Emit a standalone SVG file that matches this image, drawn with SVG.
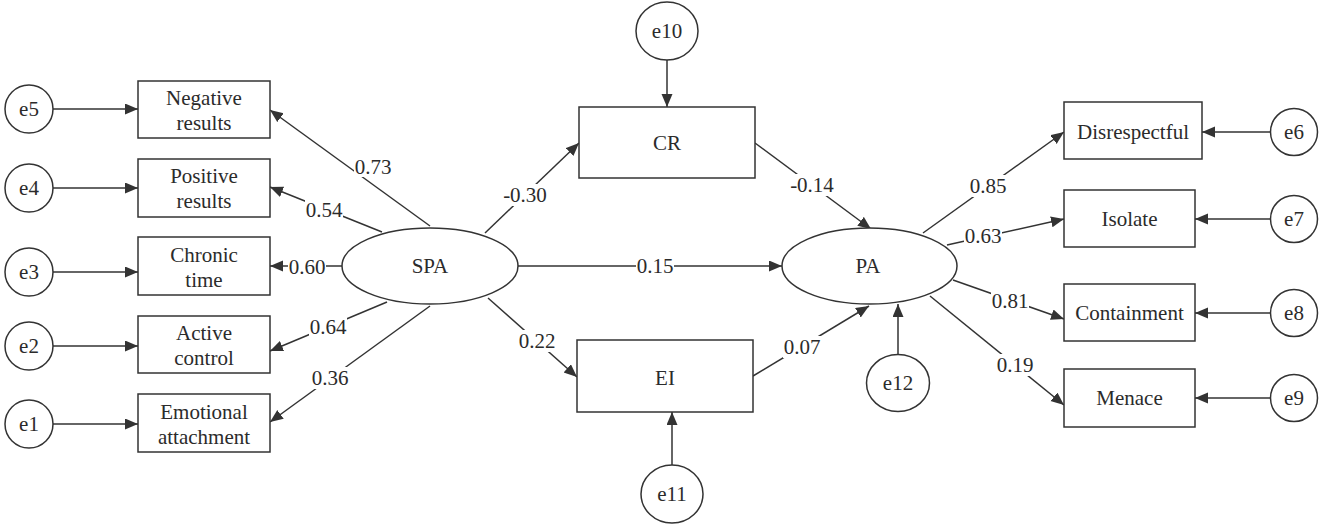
<svg xmlns="http://www.w3.org/2000/svg" width="1325" height="524" viewBox="0 0 1325 524">
<style>
.n{fill:#fff;stroke:#333;stroke-width:1.5}
text{font-family:'Liberation Serif','DejaVu Serif','Times New Roman',serif;font-size:21px;fill:#2b2b2b;text-anchor:middle}
.c line{stroke:#333;stroke-width:1.5;marker-end:url(#ah)}
.bg{fill:#fff;stroke:none}
</style>
<defs>
<marker id="ah" markerUnits="userSpaceOnUse" markerWidth="14" markerHeight="12" refX="13" refY="5.5" orient="auto">
<path d="M0,0 L13,5.5 L0,11 z" fill="#333"/>
</marker>
</defs>
<rect width="1325" height="524" fill="#fff"/>

<g class="c" id="connectors">
<line x1="53" y1="109" x2="138" y2="109"/>
<line x1="53" y1="188" x2="138" y2="188"/>
<line x1="53" y1="272" x2="138" y2="272"/>
<line x1="53" y1="346" x2="138" y2="346"/>
<line x1="53" y1="424" x2="138" y2="424"/>
<line x1="430" y1="226" x2="270" y2="110"/>
<line x1="382" y1="232" x2="270" y2="187"/>
<line x1="342" y1="266" x2="270" y2="266"/>
<line x1="387" y1="302" x2="270" y2="351"/>
<line x1="430" y1="306" x2="270" y2="422"/>
<line x1="667" y1="60" x2="667" y2="107"/>
<line x1="672" y1="465" x2="672" y2="412"/>
<line x1="898" y1="355" x2="898" y2="304"/>
<line x1="485" y1="233" x2="579" y2="143"/>
<line x1="755" y1="143" x2="871" y2="229"/>
<line x1="518" y1="266" x2="782" y2="266"/>
<line x1="488" y1="298" x2="577" y2="377"/>
<line x1="753" y1="376" x2="869" y2="306"/>
<line x1="923" y1="233" x2="1064" y2="132"/>
<line x1="947" y1="245" x2="1064" y2="219"/>
<line x1="953" y1="280" x2="1064" y2="319"/>
<line x1="930" y1="296" x2="1064" y2="405"/>
<line x1="1270" y1="132" x2="1202" y2="132"/>
<line x1="1270" y1="219" x2="1195" y2="219"/>
<line x1="1270" y1="313" x2="1195" y2="313"/>
<line x1="1270" y1="398" x2="1195" y2="398"/>
</g>

<g id="labels" font-family="Liberation Serif, DejaVu Serif, serif">
<rect class="bg" x="354" y="155" width="38" height="22"/><text x="373" y="174">0.73</text>
<rect class="bg" x="305" y="199" width="38" height="22"/><text x="324" y="217">0.54</text>
<rect class="bg" x="288" y="256" width="38" height="22"/><text x="307" y="274">0.60</text>
<rect class="bg" x="309" y="316" width="38" height="22"/><text x="328" y="334">0.64</text>
<rect class="bg" x="311" y="367" width="38" height="22"/><text x="330" y="385">0.36</text>
<rect class="bg" x="503" y="184" width="44" height="22"/><text x="525" y="202">-0.30</text>
<rect class="bg" x="790" y="174" width="44" height="22"/><text x="812" y="192">-0.14</text>
<rect class="bg" x="636" y="255" width="38" height="22"/><text x="655" y="273">0.15</text>
<rect class="bg" x="518" y="330" width="38" height="22"/><text x="537" y="348">0.22</text>
<rect class="bg" x="783" y="336" width="38" height="22"/><text x="802" y="354">0.07</text>
<rect class="bg" x="969" y="175" width="38" height="22"/><text x="988" y="193">0.85</text>
<rect class="bg" x="964" y="225" width="38" height="22"/><text x="983" y="243">0.63</text>
<rect class="bg" x="991" y="290" width="38" height="22"/><text x="1010" y="308">0.81</text>
<rect class="bg" x="996" y="354" width="38" height="22"/><text x="1015" y="372">0.19</text>
</g>

<g id="e5"><circle class="n" cx="29" cy="109" r="24"/><text x="29" y="116">e5</text></g>
<g id="e4"><circle class="n" cx="29" cy="188" r="24"/><text x="29" y="195">e4</text></g>
<g id="e3"><circle class="n" cx="29" cy="272" r="24"/><text x="29" y="279">e3</text></g>
<g id="e2"><circle class="n" cx="29" cy="346" r="24"/><text x="29" y="353">e2</text></g>
<g id="e1"><circle class="n" cx="29" cy="424" r="24"/><text x="29" y="431">e1</text></g>

<g id="negative"><rect class="n" x="138" y="81" width="132" height="57"/><text x="204" y="105">Negative</text><text x="204" y="130">results</text></g>
<g id="positive"><rect class="n" x="138" y="159" width="132" height="58"/><text x="204" y="183">Positive</text><text x="204" y="208">results</text></g>
<g id="chronic"><rect class="n" x="138" y="237" width="132" height="58"/><text x="204" y="262">Chronic</text><text x="204" y="287">time</text></g>
<g id="active"><rect class="n" x="138" y="316" width="132" height="57"/><text x="204" y="340">Active</text><text x="204" y="365">control</text></g>
<g id="emotional"><rect class="n" x="138" y="394" width="132" height="58"/><text x="204" y="419">Emotional</text><text x="204" y="444">attachment</text></g>

<g id="SPA"><ellipse class="n" cx="430" cy="266" rx="88" ry="38"/><text x="430" y="273">SPA</text></g>
<g id="PA"><ellipse class="n" cx="869.5" cy="266" rx="87.5" ry="38"/><text x="868" y="273">PA</text></g>

<g id="e10"><ellipse class="n" cx="667" cy="31" rx="31" ry="29"/><text x="667" y="38">e10</text></g>
<g id="CR"><rect class="n" x="579" y="107" width="176" height="71"/><text x="667" y="150">CR</text></g>
<g id="EI"><rect class="n" x="577" y="340" width="176" height="72"/><text x="665" y="385">EI</text></g>
<g id="e11"><ellipse class="n" cx="672" cy="494" rx="31" ry="29"/><text x="672" y="501">e11</text></g>
<g id="e12"><ellipse class="n" cx="898" cy="383" rx="31.5" ry="28.5"/><text x="898" y="390">e12</text></g>

<g id="disrespectful"><rect class="n" x="1064" y="102" width="138" height="57"/><text x="1133" y="139">Disrespectful</text></g>
<g id="isolate"><rect class="n" x="1064" y="190" width="131" height="57"/><text x="1129.5" y="226">Isolate</text></g>
<g id="containment"><rect class="n" x="1064" y="284" width="131" height="57"/><text x="1129.5" y="320">Containment</text></g>
<g id="menace"><rect class="n" x="1064" y="369" width="131" height="58"/><text x="1129.5" y="405">Menace</text></g>

<g id="e6"><circle class="n" cx="1294" cy="132" r="23.5"/><text x="1294" y="139">e6</text></g>
<g id="e7"><circle class="n" cx="1294" cy="219" r="23.5"/><text x="1294" y="226">e7</text></g>
<g id="e8"><circle class="n" cx="1294" cy="313" r="23.5"/><text x="1294" y="320">e8</text></g>
<g id="e9"><circle class="n" cx="1294" cy="398" r="23.5"/><text x="1294" y="405">e9</text></g>
</svg>
